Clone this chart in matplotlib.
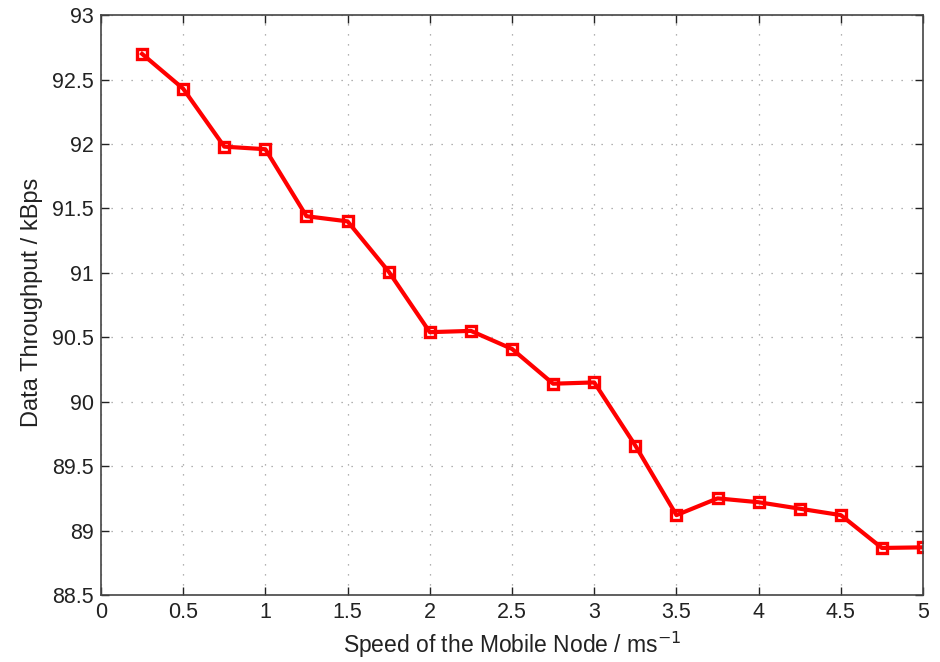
import matplotlib
matplotlib.use("Agg")
import matplotlib.pyplot as plt

speed = [0.25, 0.5, 0.75, 1.0, 1.25, 1.5, 1.75, 2.0, 2.25, 2.5,
         2.75, 3.0, 3.25, 3.5, 3.75, 4.0, 4.25, 4.5, 4.75, 5.0]
throughput = [92.70, 92.43, 91.98, 91.96, 91.44, 91.40, 91.01, 90.54, 90.55, 90.41,
              90.14, 90.15, 89.66, 89.12, 89.25, 89.22, 89.17, 89.12, 88.865, 88.87]

xticks = [0, 0.5, 1, 1.5, 2, 2.5, 3, 3.5, 4, 4.5, 5]
xticklabels = ["0", "0.5", "1", "1.5", "2", "2.5", "3", "3.5", "4", "4.5", "5"]
yticks = [88.5, 89, 89.5, 90, 90.5, 91, 91.5, 92, 92.5, 93]
yticklabels = ["88.5", "89", "89.5", "90", "90.5", "91", "91.5", "92", "92.5", "93"]

plt.rcParams['font.family'] = ['Liberation Sans', 'DejaVu Sans']

fig = plt.figure(figsize=(9.4, 6.62), dpi=100)
ax = fig.add_axes([0.1074, 0.1012, 0.8746, 0.8758])

ax.plot(speed, throughput, color='red', linewidth=3, marker='s',
        markersize=7, markerfacecolor='none', markeredgecolor='red',
        markeredgewidth=2.4)

ax.set_xlim(0, 5)
ax.set_ylim(88.5, 93)
ax.set_xticks(xticks)
ax.set_xticklabels(xticklabels)
ax.set_yticks(yticks)
ax.set_yticklabels(yticklabels)
ax.tick_params(direction='in', top=True, right=True, length=6, width=1,
               labelsize=15.5, colors='#222222', pad=5)
ax.grid(True, linestyle=(0, (1, 7)), color='#999999', linewidth=0.9)
for s in ax.spines.values():
    s.set_color('#444444')
    s.set_linewidth(1.2)

ax.set_xlabel("Speed of the Mobile Node / ms$^{-1}$", fontsize=16.5,
              color='#222222', va='center')
ax.set_ylabel("Data Throughput / kBps", fontsize=17, color='#222222',
              va='center')
ax.xaxis.set_label_coords(0.5, -0.086)
ax.yaxis.set_label_coords(-0.0839, 0.505)

fig.savefig("out.png", dpi=100)
